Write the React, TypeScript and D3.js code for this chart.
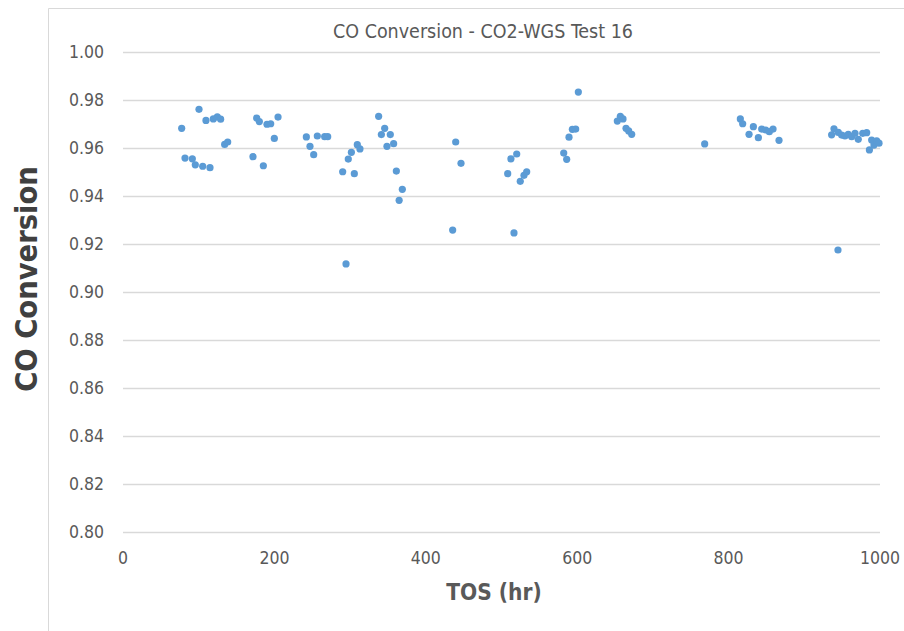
import React from "react";
import * as d3 from "d3";

// Time on stream (hr) and CO conversion for each sample
const tos = [
  77.5, 100.4, 109.6, 119.3, 124.6, 129, 134.3, 138.3, 81.9, 91.6, 95.5, 105.3, 114.9,
  176.6, 180.1, 190.2, 195.1, 204.8, 199.9, 171.7, 185.4,
  242.2, 247, 251.9, 256.7, 266.4, 270.4, 290.2, 294.6, 297.6, 301.7, 305.6, 309.5, 313,
  337.7, 341.3, 345.7, 353.1, 348.7, 357.5, 361.1, 369, 364.8,
  439.5, 446.5, 435.5,
  516.5, 508.2, 512.5, 520.1, 524.8, 529.7, 533.3,
  582.2, 586.1, 589.2, 593.6, 598, 601.5,
  653, 657, 660.5, 664.5, 668, 672,
  768.4,
  815.5, 818.6, 827, 832.7, 839.3, 843.7, 849, 853.8, 858.7, 866.6,
  936.1, 939.2, 944.5, 944.9, 949.3, 953.7, 958.1, 962.6, 967, 971.3, 977.2, 982.4,
  989, 992, 995.6, 998.7, 986,
];
const conversion = [
  0.9682, 0.9761, 0.9715, 0.9721, 0.973, 0.972, 0.9615, 0.9625, 0.9558, 0.9555, 0.953, 0.9524, 0.9518,
  0.9725, 0.971, 0.9699, 0.9701, 0.9729, 0.964, 0.9564, 0.9526,
  0.9646, 0.9607, 0.9572, 0.965, 0.9647, 0.9647, 0.9501, 0.9117, 0.9554, 0.9582, 0.9493, 0.9614, 0.9596,
  0.9732, 0.9656, 0.9682, 0.9656, 0.9607, 0.9618, 0.9504, 0.9428, 0.9382,
  0.9625, 0.9536, 0.9258,
  0.9246, 0.9493, 0.9555, 0.9575, 0.9461, 0.9486, 0.9501,
  0.9579, 0.9553, 0.9645, 0.9678, 0.9679, 0.9833,
  0.9712, 0.9732, 0.9721, 0.9682, 0.9671, 0.9657,
  0.9617,
  0.9721, 0.9701, 0.9657, 0.9689, 0.9643, 0.9679, 0.9675, 0.9668, 0.9679, 0.9632,
  0.9655, 0.968, 0.9175, 0.9665, 0.9654, 0.965, 0.9657, 0.9647, 0.9661, 0.9636, 0.9661, 0.9664,
  0.9633, 0.9612, 0.963, 0.962, 0.9592,
];

const xTicks = [0, 200, 400, 600, 800, 1000];
const yTicks = [0.8, 0.82, 0.84, 0.86, 0.88, 0.9, 0.92, 0.94, 0.96, 0.98, 1.0];

const title = "CO Conversion - CO2-WGS Test 16";
const xTitle = "TOS (hr)";
const yTitle = "CO Conversion";

const W = 904;
const H = 631;
const plot = { left: 123, right: 880, top: 52, bottom: 532 };
const font = "'Liberation Sans Narrow', 'DejaVu Sans Condensed', 'Liberation Sans', sans-serif";
const textGray = "#595959";
const gridGray = "#d9d9d9";
const dotBlue = "#5b9bd5";

export default function App() {
  const x = d3.scaleLinear().domain([0, 1000]).range([plot.left, plot.right]);
  const y = d3.scaleLinear().domain([0.8, 1.0]).range([plot.bottom, plot.top]);
  const fmt = d3.format(".2f");
  const points = tos.map((t, i) => ({ t, c: conversion[i] }));

  return (
    <svg
      width={W}
      height={H}
      style={{ position: "absolute", left: 0, top: 0, background: "#fff" }}
      fontFamily={font}
    >
      <rect x={0} y={0} width={W} height={H} fill="#fff" />
      {/* chart area frame */}
      <line x1={48.5} y1={8.5} x2={W} y2={8.5} stroke={gridGray} />
      <line x1={48.5} y1={8.5} x2={48.5} y2={H} stroke={gridGray} />

      {yTicks.map((v) => (
        <g key={v}>
          <line
            x1={plot.left}
            x2={plot.right}
            y1={Math.round(y(v)) + 0.5}
            y2={Math.round(y(v)) + 0.5}
            stroke={gridGray}
            strokeWidth={1.3}
          />
          <text
            x={104}
            y={y(v)}
            dy="0.35em"
            textAnchor="end"
            fontSize={17.5}
            fill={textGray}
          >
            {fmt(v)}
          </text>
        </g>
      ))}

      {xTicks.map((v) => (
        <text
          key={v}
          x={x(v)}
          y={558}
          dy="0.35em"
          textAnchor="middle"
          fontSize={17.5}
          fill={textGray}
        >
          {v}
        </text>
      ))}

      {points.map((p, i) => (
        <circle key={i} cx={x(p.t)} cy={y(p.c)} r={3.6} fill={dotBlue} />
      ))}

      <text x={483} y={31} dy="0.35em" textAnchor="middle" fontSize={19.5} fill={textGray}>
        {title}
      </text>
      <text
        x={494}
        y={592}
        dy="0.35em"
        textAnchor="middle"
        fontSize={22.5}
        fontWeight="bold"
        fill={textGray}
      >
        {xTitle}
      </text>
      <text
        transform="translate(26,279) rotate(-90)"
        dy="0.35em"
        textAnchor="middle"
        fontSize={30.5}
        fontWeight="bold"
        fill="#404040"
      >
        {yTitle}
      </text>
    </svg>
  );
}
